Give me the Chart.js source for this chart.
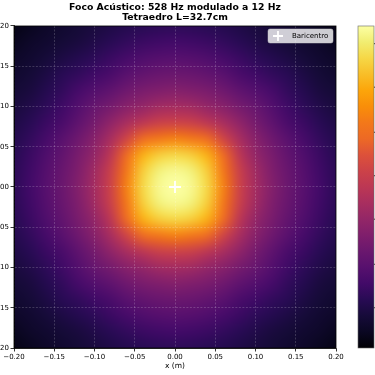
<!DOCTYPE html>
<html><head><meta charset="utf-8">
<script src="https://cdn.jsdelivr.net/npm/chart.js@4.4.1/dist/chart.umd.min.js"></script>
<style>
html,body{margin:0;padding:0;width:375px;height:375px;overflow:hidden;background:#fff}
#wrap{position:absolute;left:-40px;top:0;width:430px;height:375px}
</style></head><body>
<div id="wrap"><canvas id="c" width="430" height="375"></canvas></div>
<script>
const titleLines = ['Foco Acústico: 528 Hz modulado a 12 Hz', 'Tetraedro L=32.7cm'];
const xTitle = 'x (m)';
const yTitle = 'y (m)';
const axisTicks = [-0.20, -0.15, -0.10, -0.05, 0.00, 0.05, 0.10, 0.15, 0.20];
const cbarTicks = [0.125, 0.26, 0.4, 0.535, 0.67, 0.81, 0.945];
// cell centres (m)
const gridX = [-0.20,-0.18,-0.16,-0.14,-0.12,-0.10,-0.08,-0.06,-0.04,-0.02,0.00,0.02,0.04,0.06,0.08,0.10,0.12,0.14,0.16,0.18,0.20];
const gridY = [0.20,0.18,0.16,0.14,0.12,0.10,0.08,0.06,0.04,0.02,0.00,-0.02,-0.04,-0.06,-0.08,-0.10,-0.12,-0.14,-0.16,-0.18,-0.20];
// normalised acoustic intensity, rows follow gridY, columns follow gridX
const intensity = [
[.03,.045,.065,.08,.095,.11,.125,.14,.15,.158,.16,.158,.15,.14,.125,.11,.095,.08,.065,.045,.03],
[.045,.065,.08,.095,.11,.13,.15,.17,.185,.195,.20,.195,.185,.17,.15,.13,.11,.095,.08,.065,.045],
[.065,.08,.10,.12,.14,.16,.185,.21,.23,.245,.25,.245,.23,.21,.185,.16,.14,.12,.10,.08,.065],
[.08,.095,.12,.15,.17,.195,.22,.255,.28,.295,.30,.295,.28,.255,.22,.195,.17,.15,.12,.095,.08],
[.095,.11,.14,.17,.21,.24,.27,.31,.335,.35,.36,.35,.335,.31,.27,.24,.21,.17,.14,.11,.095],
[.11,.13,.16,.195,.24,.29,.325,.37,.40,.43,.44,.43,.40,.37,.325,.29,.24,.195,.16,.13,.11],
[.125,.15,.185,.22,.27,.325,.39,.45,.50,.54,.55,.54,.50,.45,.39,.325,.27,.22,.185,.15,.125],
[.14,.17,.21,.255,.31,.37,.45,.56,.66,.70,.72,.70,.66,.56,.45,.37,.31,.255,.21,.17,.14],
[.15,.185,.23,.28,.335,.40,.50,.66,.82,.88,.90,.88,.82,.66,.50,.40,.335,.28,.23,.185,.15],
[.158,.195,.245,.295,.35,.43,.54,.70,.88,.96,.98,.96,.88,.70,.54,.43,.35,.295,.245,.195,.158],
[.16,.20,.25,.30,.36,.44,.55,.72,.90,.98,1.00,.98,.90,.72,.55,.44,.36,.30,.25,.20,.16],
[.158,.195,.245,.295,.35,.43,.54,.70,.88,.96,.98,.96,.88,.70,.54,.43,.35,.295,.245,.195,.158],
[.15,.185,.23,.28,.335,.40,.50,.66,.82,.88,.90,.88,.82,.66,.50,.40,.335,.28,.23,.185,.15],
[.14,.17,.21,.255,.31,.37,.45,.56,.66,.70,.72,.70,.66,.56,.45,.37,.31,.255,.21,.17,.14],
[.125,.15,.185,.22,.27,.325,.39,.45,.50,.54,.55,.54,.50,.45,.39,.325,.27,.22,.185,.15,.125],
[.11,.13,.16,.195,.24,.29,.325,.37,.40,.43,.44,.43,.40,.37,.325,.29,.24,.195,.16,.13,.11],
[.095,.11,.14,.17,.21,.24,.27,.31,.335,.35,.36,.35,.335,.31,.27,.24,.21,.17,.14,.11,.095],
[.08,.095,.12,.15,.17,.195,.22,.255,.28,.295,.30,.295,.28,.255,.22,.195,.17,.15,.12,.095,.08],
[.065,.08,.10,.12,.14,.16,.185,.21,.23,.245,.25,.245,.23,.21,.185,.16,.14,.12,.10,.08,.065],
[.045,.065,.08,.095,.11,.13,.15,.17,.185,.195,.20,.195,.185,.17,.15,.13,.11,.095,.08,.065,.045],
[.03,.045,.065,.08,.095,.11,.125,.14,.15,.158,.16,.158,.15,.14,.125,.11,.095,.08,.065,.045,.03]
];
const centroidLabel = 'Baricentro';
const centroid = [{x: 0.0, y: 0.0}];
const vMin = 0, vMax = 1;

// inferno colormap stops
const inferno = [
[0,0,4],[10,7,34],[22,11,57],[40,11,84],[66,10,104],[87,16,110],[106,23,110],[127,30,108],
[147,38,103],[168,46,95],[188,55,84],[204,66,72],[221,81,58],[237,105,37],[243,120,25],
[249,142,9],[252,165,10],[248,190,40],[246,215,70],[241,237,113],[252,255,164]
];
function cmap(v){
  let t = (v - vMin) / (vMax - vMin); t = Math.max(0, Math.min(1, t));
  const p = t * (inferno.length - 1); const i = Math.min(inferno.length - 2, Math.floor(p)); const f = p - i;
  const a = inferno[i], b = inferno[i+1];
  return [0,1,2].map(k => Math.round(a[k] + (b[k]-a[k]) * f));
}
const FONT = 'DejaVu Sans';
const fmt = v => { const s = Math.abs(v).toFixed(2); return (v < -1e-9 ? '\u2212' : '') + s; };

const heatmapPlugin = {
  id: 'heatmap',
  beforeDraw(chart) {
    const {ctx, chartArea: ca, scales: {x: xs, y: ys}} = chart;
    const nx = gridX.length, ny = gridY.length;
    const off = document.createElement('canvas'); off.width = nx; off.height = ny;
    const octx = off.getContext('2d'); const img = octx.createImageData(nx, ny);
    for (let r = 0; r < ny; r++) for (let c = 0; c < nx; c++) {
      const col = cmap(intensity[r][c]); const o = (r * nx + c) * 4;
      img.data[o] = col[0]; img.data[o+1] = col[1]; img.data[o+2] = col[2]; img.data[o+3] = 255;
    }
    octx.putImageData(img, 0, 0);
    const dx = (gridX[nx-1] - gridX[0]) / (nx - 1), dy = (gridY[0] - gridY[ny-1]) / (ny - 1);
    const x0 = xs.getPixelForValue(gridX[0] - dx/2), x1 = xs.getPixelForValue(gridX[nx-1] + dx/2);
    const y0 = ys.getPixelForValue(gridY[0] + dy/2), y1 = ys.getPixelForValue(gridY[ny-1] - dy/2);
    ctx.save();
    ctx.beginPath(); ctx.rect(ca.left, ca.top, ca.right - ca.left, ca.bottom - ca.top); ctx.clip();
    ctx.imageSmoothingEnabled = true; ctx.imageSmoothingQuality = 'high';
    ctx.drawImage(off, x0, y0, x1 - x0, y1 - y0);
    ctx.restore();
  },
  afterDatasetsDraw(chart) {
    const {ctx, chartArea: ca} = chart;
    const bx = ca.right - 68, by = ca.top + 3, bw = 65, bh = 14;
    ctx.save();
    ctx.fillStyle = 'rgba(255,255,255,0.8)'; ctx.strokeStyle = 'rgba(204,204,204,0.8)'; ctx.lineWidth = 0.6;
    ctx.beginPath(); ctx.roundRect(bx, by, bw, bh, 2); ctx.fill(); ctx.stroke();
    const cx = bx + 10, cy = by + bh/2;
    ctx.strokeStyle = '#fff'; ctx.lineWidth = 1.8;
    ctx.beginPath(); ctx.moveTo(cx - 5, cy); ctx.lineTo(cx + 5, cy); ctx.moveTo(cx, cy - 5); ctx.lineTo(cx, cy + 5); ctx.stroke();
    ctx.fillStyle = '#000'; ctx.font = '7px "' + FONT + '"'; ctx.textBaseline = 'middle'; ctx.textAlign = 'left';
    ctx.fillText(centroidLabel, bx + 24, cy + 0.5);
    ctx.restore();
  },
  afterDraw(chart) {
    const {ctx, chartArea: ca} = chart;
    ctx.save();
    ctx.strokeStyle = '#000'; ctx.lineWidth = 0.8;
    ctx.strokeRect(ca.left, ca.top, ca.right - ca.left, ca.bottom - ca.top);
    const s = chart.scales.cb;
    const cx0 = s.left + 22, cw = 16;
    const top = s.getPixelForValue(vMax), bot = s.getPixelForValue(vMin);
    const g = ctx.createLinearGradient(0, bot, 0, top);
    for (let i = 0; i < inferno.length; i++) {
      const c = inferno[i]; g.addColorStop(i / (inferno.length - 1), `rgb(${c[0]},${c[1]},${c[2]})`);
    }
    ctx.fillStyle = g; ctx.fillRect(cx0, top, cw, bot - top);
    ctx.strokeStyle = '#666'; ctx.lineWidth = 0.6; ctx.strokeRect(cx0, top, cw, bot - top);
    ctx.strokeStyle = '#000'; ctx.lineWidth = 0.7;
    cbarTicks.forEach(v => { const y = s.getPixelForValue(v); ctx.beginPath(); ctx.moveTo(cx0 + cw, y); ctx.lineTo(cx0 + cw + 3.5, y); ctx.stroke(); });
    ctx.restore();
  }
};

const gridOpts = { color: 'rgba(255,255,255,0.3)', lineWidth: 0.6, tickColor: '#000', tickLength: 3.5, tickWidth: 0.8 };
const borderOpts = { display: true, color: '#000', width: 0.8, dash: [2, 1.5] };
new Chart(document.getElementById('c'), {
  type: 'scatter',
  data: { datasets: [{
    label: centroidLabel, data: centroid, pointStyle: 'cross', pointRadius: 6, pointHoverRadius: 6,
    borderColor: '#fff', backgroundColor: '#fff', pointBorderWidth: 1.8, xAxisID: 'x', yAxisID: 'y'
  }]},
  options: {
    responsive: false, animation: false, devicePixelRatio: 1,
    layout: { padding: 0 },
    plugins: {
      legend: { display: false }, tooltip: { enabled: false },
      title: { display: true, text: titleLines, color: '#000', font: { family: FONT, size: 9.3, weight: 'bold', lineHeight: 1.15 }, padding: { top: 2, bottom: 2.6 } }
    },
    scales: {
      x: {
        type: 'linear', position: 'bottom', min: -0.2, max: 0.2,
        afterBuildTicks: s => { s.ticks = axisTicks.map(v => ({ value: v })); },
        afterFit: s => { s.height = 27; },
        ticks: { callback: v => fmt(v), color: '#000', font: { family: FONT, size: 7 }, padding: 1.5, maxRotation: 0, autoSkip: false },
        grid: gridOpts,
        border: borderOpts,
        title: { display: true, text: xTitle, color: '#000', font: { family: FONT, size: 7.5 }, padding: { top: 1, bottom: 4 } }
      },
      y: {
        type: 'linear', position: 'left', min: -0.2, max: 0.2,
        afterBuildTicks: s => { s.ticks = axisTicks.map(v => ({ value: v })); },
        afterFit: s => { s.width = 54; },
        ticks: { callback: v => fmt(v), color: '#000', font: { family: FONT, size: 7 }, padding: 1.5, autoSkip: false },
        grid: gridOpts,
        border: borderOpts,
        title: { display: true, text: yTitle, color: '#000', font: { family: FONT, size: 7.5 }, padding: 2 }
      },
      cb: {
        type: 'linear', position: 'right', min: vMin, max: vMax,
        afterBuildTicks: s => { s.ticks = cbarTicks.map(v => ({ value: v })); },
        afterFit: s => { s.width = 54; },
        ticks: { display: false },
        grid: { display: false, drawOnChartArea: false },
        border: { display: false }
      }
    }
  },
  plugins: [heatmapPlugin]
});
</script>
</body></html>
